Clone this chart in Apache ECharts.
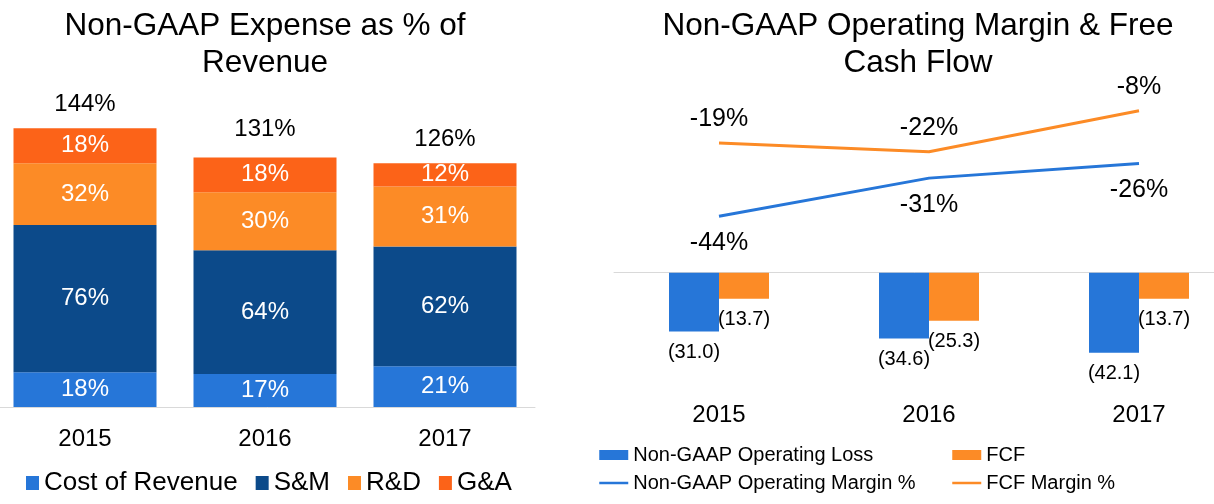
<!DOCTYPE html>
<html>
<head>
<meta charset="utf-8">
<script src="https://cdn.jsdelivr.net/npm/echarts@6/dist/echarts.min.js"></script>
<style>
html,body{margin:0;padding:0;background:#fff;}
#c{width:1214px;height:504px;}
</style>
</head>
<body>
<div id="c"></div>
<script>
// ---- Data ----
const years = ['2015', '2016', '2017'];
const costOfRevenue = [18, 17, 21];
const salesMarketing = [76, 64, 62];
const researchDev = [32, 30, 31];
const generalAdmin = [18, 18, 12];
const expenseTotals = [144, 131, 126];

const opLoss = [-31.0, -34.6, -42.1];
const fcf = [-13.7, -25.3, -13.7];
const opMarginPct = [-44, -31, -26];
const fcfMarginPct = [-19, -22, -8];

const leftTitle = 'Non-GAAP Expense as % of\nRevenue';
const rightTitle = 'Non-GAAP Operating Margin & Free\nCash Flow';

// ---- Styles ----
const FONT = 'Liberation Sans, Arial, sans-serif';
const C_LBLUE = '#2676D8';
const C_DBLUE = '#0C4A8A';
const C_ORANGE = '#FC8B26';
const C_RED = '#FC6318';
const TXT = '#000000';

const chart = echarts.init(document.getElementById('c'), null, {renderer: 'canvas'});

function stackSeries(name, data, color) {
  return {
    name: name, type: 'bar', stack: 'exp', xAxisIndex: 0, yAxisIndex: 0,
    data: data, barWidth: 143,
    itemStyle: {color: color},
    label: {show: true, position: 'inside', color: '#fff', fontSize: 24, fontFamily: FONT,
      formatter: p => p.value + '%'},
    emphasis: {disabled: true}
  };
}

const lineLegendItem = (name) => ({
  name: name,
  itemStyle: {color: 'rgba(0,0,0,0)', borderWidth: 0},
  lineStyle: {width: 2.5}
});

const option = {
  animation: false,
  backgroundColor: '#ffffff',
  textStyle: {fontFamily: FONT},
  title: [
    {text: leftTitle, left: 265, top: 8, textAlign: 'center', padding: 0,
      textStyle: {fontSize: 31.5, fontWeight: 'normal', color: TXT, fontFamily: FONT, lineHeight: 37}},
    {text: rightTitle, left: 918, top: 8, textAlign: 'center', padding: 0,
      textStyle: {fontSize: 31.5, fontWeight: 'normal', color: TXT, fontFamily: FONT, lineHeight: 37}}
  ],
  legend: [
    {data: ['Cost of Revenue', 'S&M', 'R&D', 'G&A'], left: 26, top: 470, orient: 'horizontal', padding: 0,
      itemWidth: 13, itemHeight: 14, itemGap: 18, icon: 'rect',
      textStyle: {fontSize: 26, color: TXT, fontFamily: FONT}},
    {data: [{name: 'Non-GAAP Operating Loss', icon: 'rect'}, lineLegendItem('Non-GAAP Operating Margin %')],
      left: 598, top: 445, orient: 'vertical', padding: 0, itemWidth: 29, itemHeight: 10, itemGap: 8,
      textStyle: {fontSize: 20, color: TXT, fontFamily: FONT}},
    {data: [{name: 'FCF', icon: 'rect'}, lineLegendItem('FCF Margin %')],
      left: 951, top: 445, orient: 'vertical', padding: 0, itemWidth: 29, itemHeight: 10, itemGap: 8,
      textStyle: {fontSize: 20, color: TXT, fontFamily: FONT}}
  ],
  grid: [
    {left: -5, width: 540, top: 100, height: 307, outerBoundsMode: 'none', containLabel: false},
    {left: 614, width: 630, top: 80, height: 300, outerBoundsMode: 'none', containLabel: false}
  ],
  xAxis: [
    {type: 'category', gridIndex: 0, data: years,
      axisLine: {lineStyle: {color: '#d9d9d9', width: 1}}, axisTick: {show: false},
      axisLabel: {fontSize: 24, color: TXT, fontFamily: FONT, margin: 20}},
    {type: 'category', gridIndex: 1, data: years, position: 'top',
      axisLine: {onZero: true, onZeroAxisIndex: 1, lineStyle: {color: '#d9d9d9', width: 1}},
      axisTick: {show: false}, axisLabel: {show: false}},
    {type: 'category', gridIndex: 1, data: years, position: 'bottom',
      axisLine: {show: false, onZero: false}, axisTick: {show: false},
      axisLabel: {fontSize: 24, color: TXT, fontFamily: FONT, margin: 23}}
  ],
  yAxis: [
    {type: 'value', gridIndex: 0, min: 0, max: 158.66, show: false, splitLine: {show: false}},
    {type: 'value', gridIndex: 1, min: -56.5, max: 101.4, show: false, splitLine: {show: false}},
    {type: 'value', gridIndex: 1, min: -99.9, max: 2.49, show: false, splitLine: {show: false}}
  ],
  series: [
    stackSeries('Cost of Revenue', costOfRevenue, C_LBLUE),
    stackSeries('S&M', salesMarketing, C_DBLUE),
    stackSeries('R&D', researchDev, C_ORANGE),
    stackSeries('G&A', generalAdmin, C_RED),
    {name: 'Total', type: 'scatter', xAxisIndex: 0, yAxisIndex: 0, data: expenseTotals,
      symbolSize: 0, itemStyle: {color: 'rgba(0,0,0,0)', opacity: 1},
      label: {show: true, position: 'top', distance: 12, color: TXT, fontSize: 24, fontFamily: FONT,
        formatter: p => p.value + '%'},
      emphasis: {disabled: true}},
    {name: 'Non-GAAP Operating Loss', type: 'bar', xAxisIndex: 1, yAxisIndex: 1, data: opLoss,
      barWidth: 50, barGap: '0%', itemStyle: {color: C_LBLUE},
      label: {show: true, position: 'bottom', distance: 11, color: TXT, fontSize: 20, fontFamily: FONT,
        formatter: p => '(' + Math.abs(p.value).toFixed(1) + ')'},
      emphasis: {disabled: true}},
    {name: 'FCF', type: 'bar', xAxisIndex: 1, yAxisIndex: 1, data: fcf,
      barWidth: 50, barGap: '0%', itemStyle: {color: C_ORANGE},
      label: {show: true, position: 'bottom', distance: 11, color: TXT, fontSize: 20, fontFamily: FONT,
        formatter: p => '(' + Math.abs(p.value).toFixed(1) + ')'},
      emphasis: {disabled: true}},
    {name: 'Non-GAAP Operating Margin %', type: 'line', xAxisIndex: 1, yAxisIndex: 2, data: opMarginPct,
      symbol: 'circle', symbolSize: 0, showSymbol: true,
      lineStyle: {color: C_LBLUE, width: 3}, itemStyle: {color: C_LBLUE},
      label: {show: true, position: 'bottom', distance: 14, color: TXT, fontSize: 25, fontFamily: FONT,
        formatter: p => p.value + '%'},
      emphasis: {disabled: true}},
    {name: 'FCF Margin %', type: 'line', xAxisIndex: 1, yAxisIndex: 2, data: fcfMarginPct,
      symbol: 'circle', symbolSize: 0, showSymbol: true,
      lineStyle: {color: C_ORANGE, width: 3}, itemStyle: {color: C_ORANGE},
      label: {show: true, position: 'top', distance: 11, color: TXT, fontSize: 25, fontFamily: FONT,
        formatter: p => p.value + '%'},
      emphasis: {disabled: true}}
  ]
};
chart.setOption(option);
</script>
</body>
</html>
